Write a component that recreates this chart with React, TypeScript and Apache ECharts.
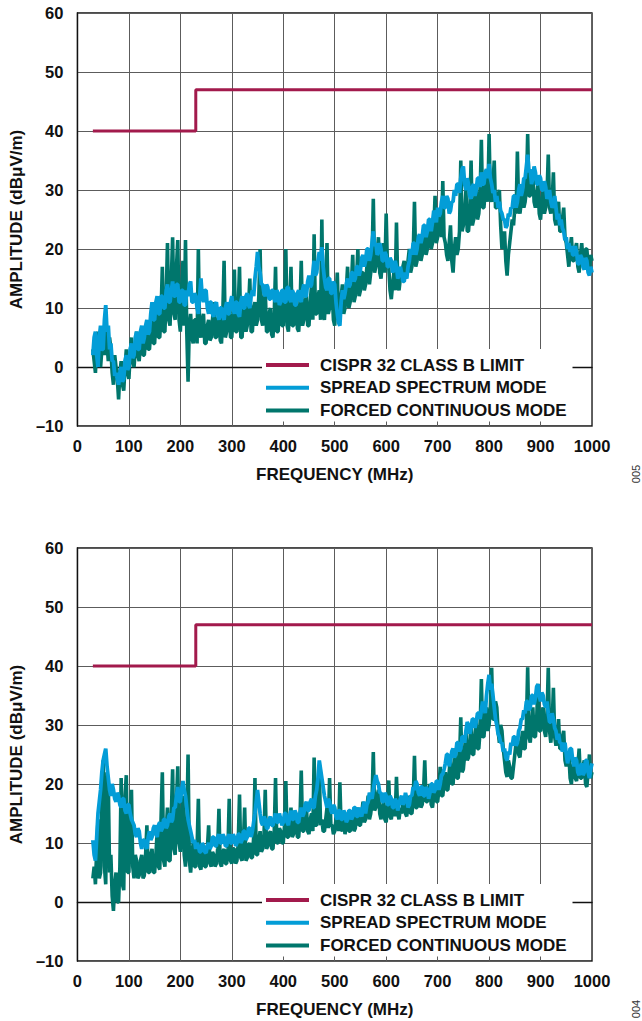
import React, { useEffect, useRef } from 'react';
import * as echarts from 'echarts';

// Sampling grid of the traces (MHz): one value every 2.5 MHz from 30 MHz to 1000 MHz
const FREQ_START = 30;
const FREQ_STEP = 2.5;

// CISPR 32 class B limit (step)
const LIMIT_FREQ = [30, 230, 230, 1000];
const LIMIT_DB = [40, 40, 47, 47];

// Upper chart (figure 005), one row = 50 MHz
const TOP_SPREAD = [
  2, 5, 6, 2, 0, 5, 7, 3, 3, 8, 10.5, 6, 7, 3, 4, 1, 1, -1.5, -1, -2,
  -3, -1, 0, -2.5, -2, 1, 2, -0.5, 0, 3, 4, 1.5, 2, 5, 6, 3, 3, 6, 7, 4,
  5, 7, 8, 5.5, 6, 9, 11, 8, 8, 11, 12, 9, 9, 12, 12, 10, 10, 13, 14, 11,
  11, 13, 14.5, 12, 12, 14, 14, 11, 11, 13, 13, 10.5, 10.5, 13, 12, 14, 14.5, 11, 11, 12.5,
  12, 10, 9, 12, 15, 12, 11, 13, 13, 10, 9, 11, 11, 9, 8.5, 10.5, 11, 9, 8, 10,
  10, 8.5, 8, 10, 11, 9, 9, 11, 12, 10, 9, 11, 11, 9, 8.5, 11, 12, 10, 10, 12,
  12.5, 10.5, 10, 12, 13, 12, 15, 17, 19.5, 17, 16, 14, 14, 12.5, 12, 14, 13.5, 11.5, 11.5, 13,
  13, 11.5, 11, 13, 12.5, 10.5, 11, 13, 13, 11, 11, 13.5, 13.5, 11.5, 11, 13, 12.5, 10.5, 10.5, 12.5,
  13, 11.5, 11, 13, 14, 12, 12, 14.5, 15.5, 13.5, 14, 16, 18, 15.5, 16, 18, 19.5, 18, 20.3, 17,
  15, 13.5, 13, 15, 15, 12.5, 12.5, 14.5, 14, 11, 9, 7.5, 7, 11, 13, 11.5, 12.5, 14, 15, 13.5,
  14, 16, 16, 14.5, 15, 17, 17, 15.5, 16.5, 18.5, 19, 17, 18, 20, 20, 18, 19, 21, 23, 20.5,
  21, 19, 19.5, 21, 20, 18, 18, 19.5, 19, 17, 17, 18.5, 18, 16, 16.5, 18, 17, 15, 15.5, 17,
  16, 14.5, 14.5, 16, 15, 17, 18, 20, 19, 21, 21, 19, 20, 22, 22.5, 21, 22, 24, 24, 22,
  23, 25, 25, 23, 24.5, 26.5, 26, 24.5, 27, 25.5, 26, 28, 29, 27, 27, 29, 28.5, 26, 26.5, 28,
  28, 30, 29, 31, 31, 29.5, 32, 33.5, 34, 31, 30, 32, 31, 29, 28.5, 30.5, 31, 29, 30, 32,
  32, 30.5, 33, 31, 31, 33, 33.5, 32, 34.4, 32, 31, 29.5, 30, 28, 29, 27, 28, 26.5, 26, 25,
  25, 23.6, 24, 26, 25.5, 27, 27, 29, 29, 27, 28, 30, 31, 29, 30, 32, 32, 34, 36, 33,
  33.5, 31, 32, 34, 33, 31, 31, 32.5, 32, 30, 30, 31.5, 30.5, 28.5, 29, 30, 28, 27, 27.5, 29,
  27, 25, 26, 24, 25, 23.5, 23, 21.5, 22, 20, 21, 19.5, 20.5, 19, 19, 20.5, 19.5, 17.5, 17.5, 19,
  18.5, 17, 16.5, 18.5, 18, 16, 15.5, 17, 16,
];

const TOP_FORCED = [
  3, 1, -1, 4, 6, 2, 0, 3, 5, 2, 9, 4, 1, 5, 3, -1, -3, 2, 0, -2,
  -5.5, -1, 1, -3, -4, 0, 3, -1, -2, 2, 5, 1, 0, 3, 6, 2, 1, 4, 5, 2,
  2, 5, 7, 3, 3, 6, 9, 4, 4, 8, 10, 5, 5, 9, 17, 6, 6, 12, 21, 8,
  7, 15, 22, 9, 8, 17, 21.5, 8, 6, 12, 18, 7, 21.5, 6, -2.5, 7, 9, 5, 4, 8,
  8, 4, 20, 6, 5, 8, 9, 4, 4, 7, 8, 4.5, 5, 8, 11, 5, 5, 8, 9, 4.5,
  4, 9, 18, 5, 6, 9, 10, 5, 5, 9, 16.5, 6, 6, 10, 17, 5, 5, 9, 12, 6,
  7, 10, 15, 6, 6, 10, 11, 7, 8, 12, 20, 8, 7, 11, 13, 6, 6, 9, 10, 5.5,
  5, 9, 17, 6, 6, 10, 12, 7, 7, 11, 20, 7, 6, 10, 17, 7, 7, 11, 12, 6.5,
  6, 10, 18, 7, 8, 11, 12, 7, 7, 11, 14, 8, 22.5, 9, 9, 12, 13, 8, 25, 9,
  8, 12, 21, 9, 10, 13, 13, 8, 7, 11, 16, 8, 9, 12, 14, 9, 10, 13, 17, 10,
  11, 14, 19, 11, 12, 15, 20, 12, 13, 16, 16, 13, 14, 17, 19, 14, 16, 18, 28.5, 16,
  17, 19, 22, 16, 15, 18, 21, 16, 26, 17, 17, 13, 11.5, 14, 16, 13, 24.5, 14, 13, 15,
  15, 17, 18, 15, 16, 18, 20, 16, 17, 19, 28, 17, 18, 20, 22, 18, 19, 21, 24, 19,
  20, 22, 25, 20, 21, 23, 29, 21, 22, 24, 26, 22, 31.5, 22, 21, 19, 18, 21, 24, 18,
  16, 20, 22, 19, 20, 23, 35, 23, 24, 26, 30, 23, 23, 26, 35, 24, 25, 27, 31, 25,
  26, 29, 38.5, 27, 27, 30, 32, 28, 39.5, 29, 28, 31, 35, 27, 27, 29, 30, 24, 20, 22,
  23, 18, 15.5, 19, 21, 23, 25, 24, 27, 26, 36.5, 27, 26, 28, 31, 27, 28, 30, 39.5, 29,
  29, 31, 33, 28, 27, 29, 31, 26, 25, 28, 30, 26, 27, 29, 36, 27, 26, 28, 33, 25,
  24, 26, 28, 23, 23, 25, 27, 22, 21, 19, 17, 20, 22, 18, 18, 20, 21, 17, 16, 19,
  21, 18, 17, 20, 20, 17, 16, 19, 18,
];

// Lower chart (figure 004), one row = 50 MHz
const BOTTOM_SPREAD = [
  10.5, 8, 7, 11, 15, 17, 19, 22, 24, 25, 26, 23, 21, 19, 18, 20, 19, 17.5, 17, 18.5,
  18, 16.5, 16, 17.5, 17.5, 15.5, 15, 16.5, 16.5, 15, 14, 13.5, 13, 11.5, 11, 12.5, 12, 10, 9, 10.5,
  10.5, 9.5, 9, 11, 12, 10.5, 11, 12.5, 13, 11.5, 11, 13, 13.5, 12, 12.5, 14, 14, 12.5, 13, 14.5,
  15, 13.5, 14, 16, 16, 18, 19.5, 17, 17, 19, 20.5, 19, 18, 16, 14, 13, 12, 11, 10, 10.5,
  9, 10, 9.5, 8.5, 8.5, 10, 9.5, 8.5, 8.3, 9.5, 10, 9, 9.5, 11, 11, 9.5, 9.5, 11, 11.5, 10,
  10, 11.5, 11, 9.5, 9.5, 11, 11.5, 10, 10, 11.5, 11, 9.5, 10, 11.5, 11.5, 10, 10.5, 12, 12, 10.5,
  11, 12.5, 12.5, 11, 12, 13.5, 15, 17, 19, 17, 15, 13.5, 13, 14.5, 14, 12.5, 12.5, 14, 14.5, 13,
  13, 14, 15, 13.5, 13.5, 15, 14, 13, 13.5, 15, 15, 13.5, 13, 14.5, 15.5, 14, 14, 15.5, 15, 13.5,
  13.5, 15, 16, 14.5, 15, 16.5, 17, 15.5, 15.5, 17, 17.5, 16, 16, 18, 19, 21, 24, 22.5, 21, 19.5,
  18, 17, 16, 17.5, 17, 15.5, 15, 16.5, 16, 14.5, 14, 15.5, 15.5, 14, 14, 15.5, 15, 13.5, 14, 15.5,
  15.5, 14, 14.5, 16, 16, 14.5, 14.5, 16, 15, 14.5, 16, 17, 15, 16.5, 17, 18.5, 18, 17.5, 19, 20.5,
  21.5, 20.5, 20, 18.5, 18.5, 17, 17, 18.5, 18, 16.5, 16.5, 18, 17.5, 16, 16, 17.5, 17, 15.5, 16.5, 17.5,
  18, 16.5, 17, 18.5, 17.5, 16, 16.5, 18, 18, 19.5, 19, 20.5, 20, 18.5, 18, 19.5, 19.5, 18, 18, 19.5,
  19, 17.5, 18.5, 20, 20, 18.5, 19, 20.5, 20.5, 19, 20, 21.5, 21.7, 22.5, 23.5, 25, 25, 23, 24, 25.5,
  26, 24.5, 25, 27, 27, 25.5, 26, 28, 28, 27, 29, 30.5, 30, 28.5, 29.5, 31, 31, 29.5, 30.5, 32,
  32, 31, 32.5, 34, 33, 32, 35, 37, 38.5, 36, 37, 35, 33, 31, 30, 28.5, 28, 27, 27, 25.5,
  26, 24.5, 24, 25.5, 25, 27, 26.5, 28, 28, 26.5, 27, 29, 29.5, 31, 31, 32.5, 32, 34, 34, 32.5,
  33, 35, 35, 33.5, 34.5, 36.5, 36.9, 35, 34, 35.5, 35, 33.5, 33, 34, 32, 30.5, 30.5, 32, 31, 29.5,
  29, 27.5, 28.5, 27, 27, 25.5, 26, 27, 25, 23.5, 24.5, 26, 26, 24, 23, 24.5, 24, 22, 21.5, 23,
  23.5, 21.5, 22, 24, 24, 22, 21, 22.5, 23.5,
];

const BOTTOM_FORCED = [
  4, 6, 3, 9, 14, 4, 5, 18, 24, 6, 3, 22, 20, 5, 8, 1, -1.5, 3, 5, 0,
  0, 6, 21, 3, 2, 18, 21.5, 5, 5, 15, 19, 6, 4, 8, 7, 4, 4.5, 7, 8, 4,
  4.5, 8, 13, 5, 5, 8, 9, 5, 5, 8, 12, 6, 5.5, 14, 22, 7, 6, 12, 16, 7,
  7, 15, 22.5, 9, 8, 17, 23, 10, 8.5, 14, 18, 8, 6, 12, 25, 7, 5, 8, 10, 6,
  6, 9, 17.5, 6, 5.5, 8, 9, 6, 6, 9, 13, 6.5, 6, 8.5, 8, 6, 6.5, 9, 15.8, 6.5,
  6, 8.5, 9, 6.5, 6.5, 9, 17.5, 7, 6.5, 9, 9, 6.5, 7, 10, 18.2, 7.5, 7, 10, 16, 7,
  7.5, 9.5, 10, 7.5, 7.5, 11, 21, 8, 8, 10.5, 12, 8.5, 9, 11, 19, 9, 9.5, 11.5, 12, 9,
  9, 12, 21, 10, 10, 12.5, 12, 10, 10, 13, 20.5, 11, 11, 13, 16, 11, 11.5, 13.5, 14, 11,
  11, 14, 22.3, 12, 12, 14.5, 16, 12, 11.5, 14, 15, 12, 24.5, 13, 13, 16, 22.5, 13, 14, 12,
  12, 14, 16, 12.5, 21, 13, 13, 11.5, 12, 14, 15.5, 12, 20.3, 12.5, 12, 14, 11.5, 13, 15, 12,
  12, 14, 15.5, 12, 12.5, 14.5, 16, 13, 13, 15, 17, 13.5, 14, 16, 18, 14, 15, 17, 25.4, 15.5,
  16, 18, 19, 15, 14, 16, 17, 14, 13.5, 16, 20.6, 14.5, 14, 16, 17, 14.5, 21.2, 15, 14, 16,
  15, 16.5, 17.5, 15, 14.5, 17, 18, 15, 15, 17, 24.8, 16, 16, 18, 19, 16, 16.5, 18.5, 24, 17,
  17, 18.5, 20, 16.5, 16, 18, 19.5, 17, 17, 19, 22.9, 18, 18, 20, 22, 19, 19, 22, 25, 20,
  20, 23, 26, 21, 21, 24, 31.3, 22, 22.5, 25, 29, 24, 24.5, 27, 30, 25, 25, 28, 31, 26,
  26, 29, 37.8, 28, 28, 31, 33, 29, 30, 33, 39.7, 31, 31, 34, 33, 29, 27, 30, 29, 26,
  24, 22, 21.2, 24, 23, 21, 21, 23, 25, 27, 28, 25, 24.5, 27, 29, 26, 26, 30, 39.8, 28,
  27, 30, 33, 28, 28, 31, 37, 29, 29, 32, 33, 29, 28, 31, 39.7, 29, 27, 30, 36.3, 28,
  26.5, 28, 31, 26, 26, 28, 29, 24, 23, 25, 25, 21, 20, 23, 24, 21, 20.5, 23, 26, 21,
  21, 23, 24, 20, 19.5, 22, 25, 21, 22,
];

const NAME_LIMIT = 'CISPR 32 CLASS B LIMIT';
const NAME_SPREAD = 'SPREAD SPECTRUM MODE';
const NAME_FORCED = 'FORCED CONTINUOUS MODE';
const FIGURE_CODES = ['005', '004'];

const COLOR_LIMIT = '#A21A4C';
const COLOR_SPREAD = '#039DD7';
const COLOR_FORCED = '#00766C';
const FONT = '"Liberation Sans", Arial, Helvetica, sans-serif';
const TEXT = '#111111';

const GRID_TOPS = [13, 548];
const GRID_LEFT = 77;
const GRID_W = 515;
const GRID_H = 413;

function toPairs(values: number[]) {
  return values.map((v, i) => [FREQ_START + i * FREQ_STEP, v]);
}

function buildOption() {
  const grids = GRID_TOPS.map((top) => ({
    left: GRID_LEFT,
    top,
    width: GRID_W,
    height: GRID_H,
    show: true,
    borderColor: TEXT,
    borderWidth: 1.3,
    backgroundColor: 'transparent',
  }));

  const xAxes = GRID_TOPS.map((_, gi) => ({
    type: 'value',
    gridIndex: gi,
    min: 0,
    max: 1000,
    interval: 100,
    name: 'FREQUENCY (MHz)',
    nameLocation: 'middle',
    nameGap: 40,
    nameTextStyle: { fontFamily: FONT, fontWeight: 'bold', fontSize: 17, color: TEXT },
    axisLine: { show: true, lineStyle: { color: TEXT, width: 1.3 } },
    axisTick: { show: false },
    axisLabel: {
      fontFamily: FONT,
      fontWeight: 'bold',
      fontSize: 16.5,
      color: TEXT,
      margin: 11,
      formatter: (v: number) => String(v),
    },
    splitLine: { show: true, lineStyle: { color: '#5c5c5c', width: 1 } },
  }));

  const yAxes = GRID_TOPS.map((_, gi) => ({
    type: 'value',
    gridIndex: gi,
    min: -10,
    max: 60,
    interval: 10,
    name: 'AMPLITUDE (dBμV/m)',
    nameLocation: 'middle',
    nameGap: 49,
    nameRotate: 90,
    nameTextStyle: { fontFamily: FONT, fontWeight: 'bold', fontSize: 17, color: TEXT },
    axisLine: { show: true, lineStyle: { color: TEXT, width: 1.3 } },
    axisTick: { show: false },
    axisLabel: {
      fontFamily: FONT,
      fontWeight: 'bold',
      fontSize: 16.5,
      color: TEXT,
      margin: 14,
      formatter: (v: number) => (v < 0 ? '\u2013' + Math.abs(v) : String(v)),
    },
    splitLine: { show: true, lineStyle: { color: '#5c5c5c', width: 1 } },
  }));

  const datasets = [
    { spread: TOP_SPREAD, forced: TOP_FORCED },
    { spread: BOTTOM_SPREAD, forced: BOTTOM_FORCED },
  ];

  const series: any[] = [];
  datasets.forEach((d, gi) => {
    series.push({
      type: 'line',
      name: NAME_FORCED,
      xAxisIndex: gi,
      yAxisIndex: gi,
      data: toPairs(d.forced),
      showSymbol: false,
      symbol: 'none',
      color: COLOR_FORCED,
      lineStyle: { color: COLOR_FORCED, width: 3.6 },
      z: 2,
    });
    series.push({
      type: 'line',
      name: NAME_SPREAD,
      xAxisIndex: gi,
      yAxisIndex: gi,
      data: toPairs(d.spread),
      showSymbol: false,
      symbol: 'none',
      color: COLOR_SPREAD,
      lineStyle: { color: COLOR_SPREAD, width: 3.8 },
      z: 3,
    });
    series.push({
      type: 'line',
      name: NAME_LIMIT,
      xAxisIndex: gi,
      yAxisIndex: gi,
      data: LIMIT_FREQ.map((f, i) => [f, LIMIT_DB[i]]),
      showSymbol: false,
      symbol: 'none',
      color: COLOR_LIMIT,
      lineStyle: { color: COLOR_LIMIT, width: 3 },
      z: 4,
    });
  });

  const legends = GRID_TOPS.map((top) => ({
    orient: 'vertical',
    left: 262,
    top: top + 336,
    data: [NAME_LIMIT, NAME_SPREAD, NAME_FORCED],
    icon: 'rect',
    itemWidth: 43,
    itemHeight: 4,
    itemGap: 2.7,
    selectedMode: false,
    backgroundColor: '#ffffff',
    padding: [6, 6, 1, 4],
    textStyle: {
      fontFamily: FONT,
      fontWeight: 'bold',
      fontSize: 17,
      color: TEXT,
      lineHeight: 20,
      padding: [0, 0, 0, 6],
    },
  }));

  const graphic = FIGURE_CODES.map((code, gi) => ({
    type: 'text',
    x: 636,
    y: GRID_TOPS[gi] + 461,
    rotation: Math.PI / 2,
    style: {
      text: code,
      fontFamily: FONT,
      fontSize: 11,
      fill: '#333333',
      align: 'center',
      verticalAlign: 'middle',
    },
  }));

  return {
    animation: false,
    backgroundColor: '#ffffff',
    grid: grids,
    xAxis: xAxes,
    yAxis: yAxes,
    legend: legends,
    series,
    graphic,
  };
}

export default function App() {
  const ref = useRef<HTMLDivElement>(null);
  useEffect(() => {
    if (!ref.current) return;
    const chart = echarts.init(ref.current, undefined, { renderer: 'svg' });
    chart.setOption(buildOption() as any);
    return () => chart.dispose();
  }, []);
  return (
    <div
      ref={ref}
      style={{ position: 'absolute', left: 0, top: 0, width: 642, height: 1021, background: '#fff' }}
    />
  );
}
